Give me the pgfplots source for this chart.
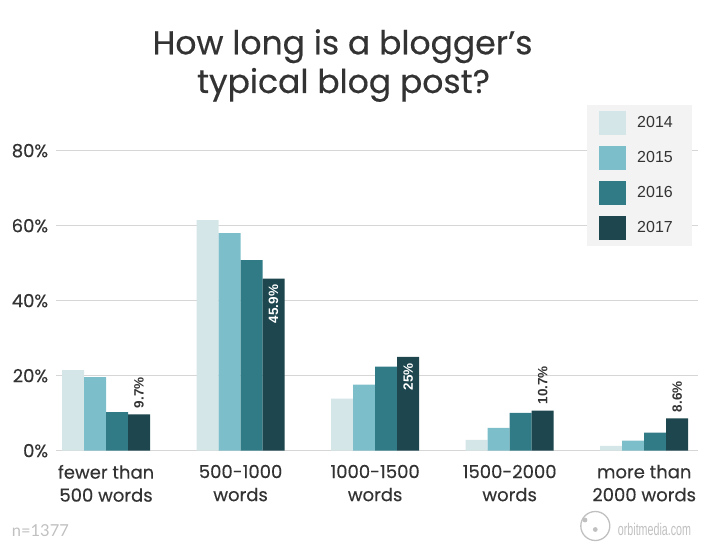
\documentclass[border=0pt]{standalone}
\usepackage{pgfplots}
\pgfplotsset{compat=1.18}
\usepackage{pgfplotstable}
\usepackage{graphicx}
\usepackage{fontspec}
\setmainfont{Poppins}[FakeBold=0.35]
\newfontfamily\arialf{Liberation Sans}
\newfontfamily\latof{Lato}
\definecolor{cA}{RGB}{213,230,232}
\definecolor{cB}{RGB}{124,190,202}
\definecolor{cC}{RGB}{49,123,135}
\definecolor{cD}{RGB}{29,70,79}
\definecolor{txt}{RGB}{51,51,51}
\definecolor{gridc}{RGB}{214,214,214}
\definecolor{legbg}{RGB}{243,243,243}
\definecolor{footc}{RGB}{192,192,192}

\pgfplotstableread{
x y
0 21.5
1 61.5
2 13.9
3 2.9
4 1.3
}\tA
\pgfplotstableread{
x y
0 19.6
1 58.0
2 17.6
3 6.1
4 2.7
}\tB
\pgfplotstableread{
x y
0 10.3
1 50.8
2 22.4
3 10.1
4 4.8
}\tC
\pgfplotstableread{
x y inside
0 9.7 0
1 45.9 1
2 25 1
3 10.7 0
4 8.6 0
}\tD

\begin{document}
\begin{tikzpicture}
\path[use as bounding box] (0pt,0pt) rectangle (710pt,550pt);
\begin{axis}[
  at={(56pt,99.3pt)}, anchor=south west,
  scale only axis, width=642pt, height=300pt,
  xmin=-0.372, xmax=4.4, ymin=0, ymax=80,
  ybar=0pt, bar width=22pt,
  axis line style={draw=none}, major tick length=0pt,
  /pgf/number format/assume math mode=true,
  ytick={0,20,40,60,80},
  yticklabels={0\%,20\%,40\%,60\%,80\%},
  ymajorgrids, grid style={gridc, line width=1.4pt},
  xtick={0,1,2,3,4},
  xticklabels={{fewer than\\500 words},{500-1000\\words},{1000-1500\\words},{1500-2000\\words},{more than\\2000 words}},
  x tick label style={font=\fontsize{18}{23}\selectfont, text=txt, align=center, anchor=north, inner sep=0pt, yshift=-14pt},
  y tick label style={font=\fontsize{18}{20}\selectfont, text=txt, anchor=east, inner sep=0pt, xshift=-7.7pt},
  legend style={at={(0.9907,1.1523)}, anchor=north east, draw=none, fill=legbg,
    inner xsep=12pt, inner ysep=6pt, row sep=11.4pt, column sep=11pt,
    nodes={inner sep=0pt, text=txt, font=\arialf\fontsize{16}{18}\selectfont}},
  legend cell align=left,
  sw/.style={legend image code/.code={\fill[##1] (0pt,-11.8pt) rectangle (27.7pt,11.8pt);}},
]
\addplot[fill=cA, draw=none, sw] table[x=x,y=y]{\tA};
\addlegendentry{2014\hspace*{7pt}}
\addplot[fill=cB, draw=none, sw] table[x=x,y=y]{\tB};
\addlegendentry{2015\hspace*{7pt}}
\addplot[fill=cC, draw=none, sw] table[x=x,y=y]{\tC};
\addlegendentry{2016\hspace*{7pt}}
\addplot[fill=cD, draw=none, sw,
  nodes near coords={\pgfmathprintnumber{\pgfplotspointmeta}\%},
  visualization depends on={\thisrow{inside}\as\labin},
  nodes near coords style={rotate=90,
    /utils/exec={\ifdim\labin pt>0.5pt \def\labanc{east}\def\labcol{white}\else\def\labanc{west}\def\labcol{txt}\fi},
    anchor=\labanc, text=\labcol,
    font=\arialf\bfseries\fontsize{13.5}{14}\selectfont, inner xsep=6pt, inner ysep=0pt}
] table[x=x,y=y]{\tD};
\addlegendentry{2017\hspace*{7pt}}
\end{axis}
\node[anchor=base, text=txt, inner sep=0pt, font=\fontsize{33}{39}\selectfont] at (342.5pt,495.7pt) {How long is a blogger’s};
\node[anchor=base, text=txt, inner sep=0pt, font=\fontsize{33}{39}\selectfont] at (343.5pt,457pt) {typical blog post?};
\node[anchor=base west, inner sep=0pt, text=footc, font=\latof\fontsize{16.5}{18}\selectfont] at (11.7pt,14pt) {n=1377};
\draw[footc, line width=1.3pt] (595.3pt,24pt) circle (14.5pt);
\fill[footc] (595.3pt,20.5pt) circle (2.4pt);
\fill[footc] (585pt,30pt) circle (2.4pt);
\node[anchor=base west, inner sep=0pt, text=footc] at (617.7pt,15pt) {\scalebox{0.63}[1]{\arialf\fontsize{17}{17}\selectfont orbitmedia.com}};
\end{tikzpicture}
\end{document}
